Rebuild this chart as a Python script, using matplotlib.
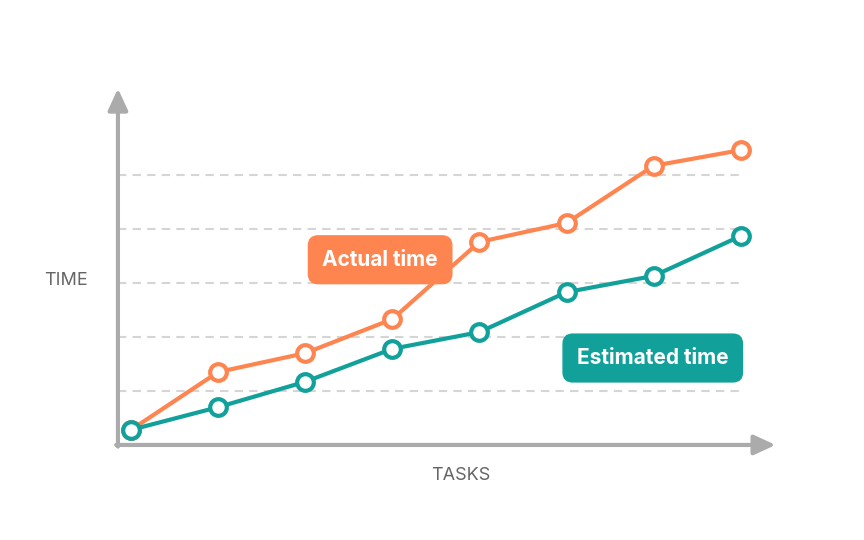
import matplotlib
matplotlib.use("Agg")
import matplotlib.pyplot as plt

tasks = [0, 1, 2, 3, 4, 5, 6, 7]
actual = [0.28, 1.35, 1.70, 2.33, 3.76, 4.11, 5.17, 5.46]
estimated = [0.28, 0.70, 1.17, 1.78, 2.09, 2.83, 3.13, 3.87]
grid_levels = [1, 2, 3, 4, 5]

ORANGE = "#FF8550"
TEAL = "#12A19A"
GRAY = "#ABABAB"

fig = plt.figure(figsize=(8.64, 5.4), dpi=100)
ax = fig.add_axes([0, 0, 1, 1])
ax.set_xlim(-1.504, 8.415)
ax.set_ylim(-1.76, 8.24)
ax.axis("off")

x0, y0 = -0.15, 0.0
for g in grid_levels:
    ax.plot([x0, 7.05], [g, g], color="#D5D5D5", lw=1.5, ls=(0, (4, 3)), zorder=1)

ax.annotate("", xy=(x0, 6.6), xytext=(x0, y0 - 0.03),
            arrowprops=dict(arrowstyle="-|>,head_length=1.3,head_width=0.6", color=GRAY, lw=3, shrinkA=0, shrinkB=0))
ax.annotate("", xy=(7.4, y0), xytext=(x0 - 0.02, y0),
            arrowprops=dict(arrowstyle="-|>,head_length=1.3,head_width=0.6", color=GRAY, lw=3, shrinkA=0, shrinkB=0))

ax.plot(tasks, actual, color=ORANGE, lw=3, marker="o", ms=12, mfc="white", mec=ORANGE, mew=3, zorder=3)
ax.plot(tasks, estimated, color=TEAL, lw=3, marker="o", ms=12, mfc="white", mec=TEAL, mew=3, zorder=4)

ax.text(-0.75, 3.04, "TIME", color="#666666", fontsize=13, family="Inter", ha="center", va="center")
ax.text(3.78, -0.57, "TASKS", color="#666666", fontsize=13, family="Inter", ha="center", va="center")

ax.text(2.86, 3.43, "Actual time", color="white", fontsize=15, family="Inter", weight="bold",
        ha="center", va="center", zorder=5,
        bbox=dict(boxstyle="round,pad=0.7,rounding_size=0.5", fc=ORANGE, ec="none"))
ax.text(5.99, 1.61, "Estimated time", color="white", fontsize=15, family="Inter", weight="bold",
        ha="center", va="center", zorder=5,
        bbox=dict(boxstyle="round,pad=0.7,rounding_size=0.5", fc=TEAL, ec="none"))

fig.savefig("out.png", dpi=100, facecolor="white")
